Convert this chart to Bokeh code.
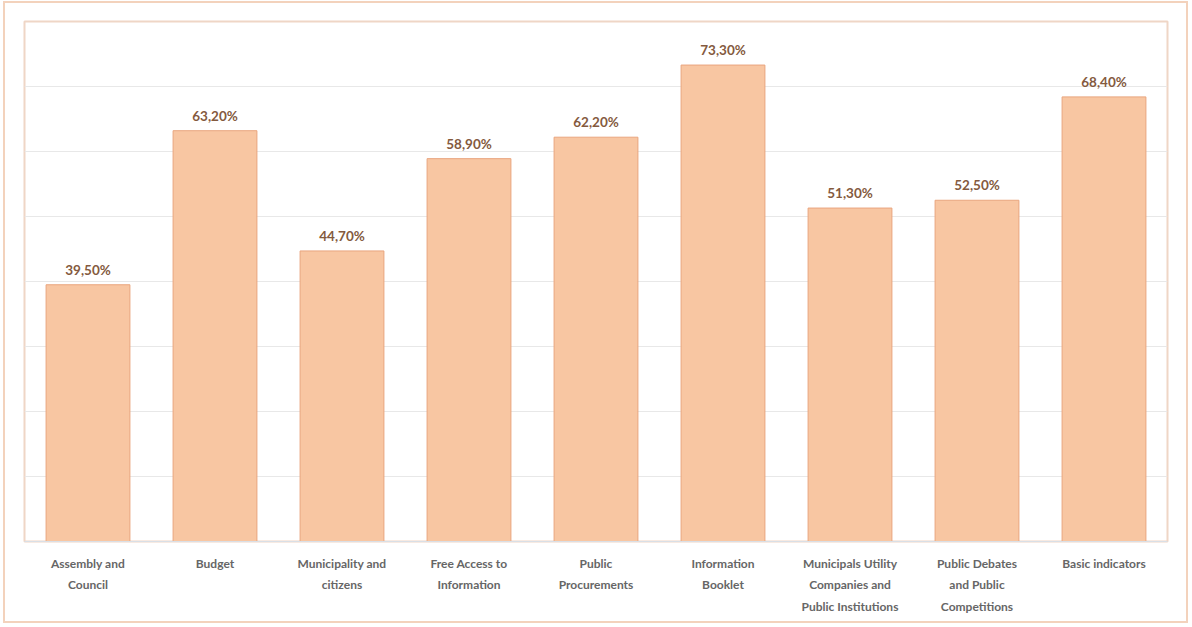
from bokeh.plotting import figure
from bokeh.layouts import column
from bokeh.models import ColumnDataSource, FactorRange, Range1d, SingleIntervalTicker
from bokeh.embed import file_html
from bokeh.resources import INLINE
from bokeh.core.properties import value

categories = [
    "Assembly and\nCouncil",
    "Budget",
    "Municipality and\ncitizens",
    "Free Access to\nInformation",
    "Public\nProcurements",
    "Information\nBooklet",
    "Municipals Utility\nCompanies and\nPublic Institutions",
    "Public Debates\nand Public\nCompetitions",
    "Basic indicators",
]
values = [39.5, 63.2, 44.7, 58.9, 62.2, 73.3, 51.3, 52.5, 68.4]
labels = [f"{v:.2f}%".replace(".", ",") for v in values]

src = ColumnDataSource(dict(cat=categories, val=values, lab=labels))

p = figure(
    x_range=FactorRange(*categories),
    y_range=Range1d(0, 80),
    width=1181, height=618,
    output_backend="svg", toolbar_location=None,
    min_border_left=19, min_border_right=19, min_border_top=18, min_border_bottom=80,
)

p.vbar(x="cat", top="val", width=0.66, source=src,
       fill_color="#f8c6a2", line_color="#e9a57e", line_width=1)
p.text(x="cat", y="val", text="lab", source=src,
       text_align="center", text_baseline="bottom", y_offset=-7,
       text_font=value("Lato"), text_font_style="bold", text_font_size="13.5px",
       text_color="#845a3e")

p.outline_line_color = "#efd6c6"
p.outline_line_width = 2
p.xgrid.grid_line_color = None
p.yaxis.visible = False
p.ygrid.ticker = SingleIntervalTicker(interval=10)
p.ygrid.grid_line_color = "#e8e8e8"
p.ygrid.grid_line_width = 1

ax = p.xaxis[0]
ax.axis_line_color = "#d9dfe6"
ax.major_tick_line_color = None
ax.minor_tick_line_color = None
ax.major_label_text_font = "Lato"
ax.major_label_text_font_size = "12px"
ax.major_label_text_font_style = "bold"
ax.major_label_text_color = "#666666"
ax.major_label_standoff = 8
ax.major_label_text_line_height = 1.45

lay = column(p, styles={"border": "2px solid #f3d2bc", "margin": "1px 0 0 3px"})

open("out.html", "w").write(file_html(lay, INLINE))
